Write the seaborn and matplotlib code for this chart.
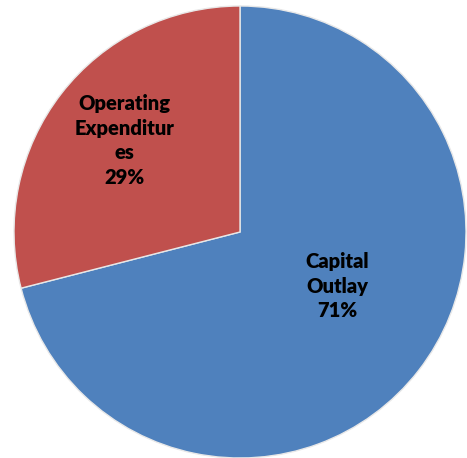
import matplotlib
matplotlib.use("Agg")
import matplotlib.pyplot as plt
import seaborn as sns

categories = ["Capital\nOutlay", "Operating\nExpenditur\nes"]
shares = [71, 29]
colors = ["#4F81BD", "#C0504D"]
label_xy = [(0.43, -0.24), (-0.51, 0.405)]

sns.set_theme(style="white")
plt.rcParams["font.family"] = ["Lato", "DejaVu Sans"]

fig = plt.figure(figsize=(4.67, 4.58), dpi=100)
ax = fig.add_axes([14 / 467, 0, 452 / 467, 452 / 458])

wedges, _ = ax.pie(
    shares,
    colors=colors,
    startangle=90,
    counterclock=False,
    radius=1.0,
    wedgeprops=dict(edgecolor="#E8E8E8", linewidth=1.0),
)
ax.set_xlim(-1, 1)
ax.set_ylim(-1, 1)
ax.set_aspect("equal")
ax.axis("off")

for name, val, (x, y) in zip(categories, shares, label_xy):
    ax.text(x, y, f"{name}\n{val}%", ha="center", va="center",
            fontsize=14.5, fontweight="heavy", color="black", linespacing=1.35)

fig.savefig("out.png", dpi=100, facecolor="white")
